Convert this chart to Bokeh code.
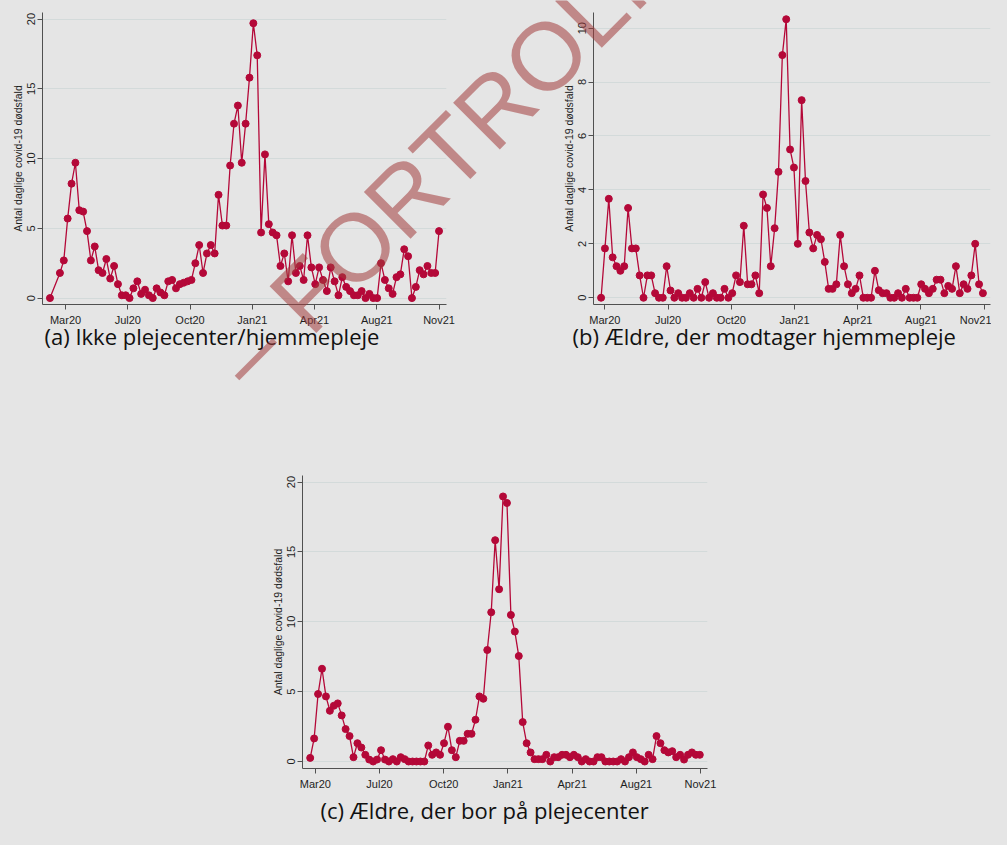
import numpy as np
import pandas as pd
from bokeh.plotting import figure
from bokeh.core.properties import value
from bokeh.models import (Range1d, FixedTicker, DatetimeTickFormatter,
                          Spacer, ColumnDataSource, GlobalInlineStyleSheet)
from bokeh.layouts import row, column
from bokeh.embed import file_html
from bokeh.resources import INLINE

# ---------------- data ----------------
tick_dates = ["2020-03-26", "2020-07-04", "2020-10-12", "2021-01-20",
              "2021-04-30", "2021-08-08", "2021-11-16"]
tick_labels = ["Mar20", "Jul20", "Oct20", "Jan21", "Apr21", "Aug21", "Nov21"]
y_label = "Antal daglige covid-19 dødsfald"
captions = ["(a) Ikke plejecenter/hjemmepleje",
            "(b) Ældre, der modtager hjemmepleje",
            "(c) Ældre, der bor på plejecenter"]
watermark_text = "– FORTROLIGT"

# (a) Ikke plejecenter/hjemmepleje
a_first_date = "2020-03-01"
a_start, a_end = "2020-03-17", "2021-11-16"
a_vals = [0.0, 1.8, 2.7, 5.7, 8.2, 9.7, 6.3, 6.2, 4.8, 2.7,
          3.7, 2.0, 1.8, 2.8, 1.4, 2.3, 1.0, 0.2, 0.2, 0.0,
          0.7, 1.2, 0.3, 0.6, 0.2, 0.0, 0.7, 0.4, 0.2, 1.2,
          1.3, 0.7, 1.0, 1.1, 1.2, 1.3, 2.5, 3.8, 1.8, 3.2,
          3.8, 3.2, 7.4, 5.2, 5.2, 9.5, 12.5, 13.8, 9.7, 12.5,
          15.8, 19.7, 17.4, 4.7, 10.3, 5.3, 4.7, 4.5, 2.3, 3.2,
          1.2, 4.5, 1.8, 2.3, 1.3, 4.5, 2.2, 1.0, 2.2, 1.3,
          0.5, 2.2, 1.2, 0.2, 1.5, 0.8, 0.5, 0.2, 0.2, 0.5,
          0.0, 0.3, 0.0, 0.0, 2.5, 1.3, 0.7, 0.3, 1.5, 1.7,
          3.5, 3.0, 0.0, 0.8, 2.0, 1.7, 2.3, 1.8, 1.8, 4.8]
a_yticks = [0, 5, 10, 15, 20]
a_yrange = (-0.46, 20.47)

# (b) Ældre, der modtager hjemmepleje
b_start, b_end = "2020-03-20", "2021-11-14"
b_vals = [0.0, 1.83, 3.67, 1.5, 1.17, 1.0, 1.17, 3.33, 1.83, 1.83,
          0.83, 0.0, 0.83, 0.83, 0.17, 0.0, 0.0, 1.17, 0.27, 0.0,
          0.17, 0.0, 0.0, 0.17, 0.0, 0.33, 0.0, 0.58, 0.0, 0.17,
          0.0, 0.0, 0.33, 0.0, 0.17, 0.83, 0.58, 2.67, 0.5, 0.5,
          0.83, 0.17, 3.83, 3.33, 1.17, 2.58, 4.67, 9.0, 10.33, 5.5,
          4.83, 2.0, 7.33, 4.33, 2.42, 1.83, 2.33, 2.17, 1.33, 0.33,
          0.33, 0.5, 2.33, 1.17, 0.5, 0.17, 0.33, 0.83, 0.0, 0.0,
          0.0, 1.0, 0.28, 0.17, 0.17, 0.0, 0.0, 0.17, 0.0, 0.33,
          0.0, 0.0, 0.0, 0.5, 0.33, 0.17, 0.33, 0.67, 0.67, 0.17,
          0.44, 0.33, 1.17, 0.17, 0.5, 0.33, 0.83, 2.0, 0.5, 0.17]
b_yticks = [0, 2, 4, 6, 8, 10]
b_yrange = (-0.25, 10.58)

# (c) Ældre, der bor på plejecenter
c_start, c_end = "2020-03-18", "2021-11-15"
c_vals = [0.26, 1.65, 4.83, 6.64, 4.66, 3.63, 3.99, 4.16, 3.3, 2.32,
          1.82, 0.31, 1.31, 1.0, 0.48, 0.14, 0.0, 0.14, 0.81, 0.14,
          0.0, 0.17, 0.0, 0.31, 0.17, 0.0, 0.0, 0.0, 0.0, 0.0,
          1.15, 0.48, 0.65, 0.48, 1.31, 2.49, 0.81, 0.31, 1.48, 1.48,
          1.98, 1.98, 2.99, 4.66, 4.49, 7.98, 10.68, 15.84, 12.33, 18.97,
          18.5, 10.49, 9.3, 7.55, 2.82, 1.31, 0.65, 0.17, 0.17, 0.17,
          0.48, 0.0, 0.31, 0.31, 0.48, 0.48, 0.31, 0.48, 0.31, 0.0,
          0.17, 0.0, 0.0, 0.31, 0.31, 0.0, 0.0, 0.0, 0.0, 0.17,
          0.0, 0.31, 0.65, 0.31, 0.17, 0.0, 0.48, 0.17, 1.82, 1.31,
          0.81, 0.65, 0.74, 0.31, 0.48, 0.14, 0.48, 0.65, 0.48, 0.48]
c_yticks = [0, 5, 10, 15, 20]
c_yrange = (-0.5, 20.47)

# ---------------- style ----------------
BG = "#e5e5e5"
RED = "#b40838"
AXIS = "#505050"
GRID = "#d3dada"
TXT = "#1e1e1e"
AX_FONT = "Liberation Sans"
CAP_FONT = "Open Sans"
PAGE_W, PAGE_H = 991, 828


def ms(d):
    return pd.Timestamp(d).value / 1e6


def make_panel(dates, vals, yticks, yrange, caption, cap_offset, cap_standoff,
               fl, fr, ft, fb, fw, fh):
    x0 = ms(dates.min() - pd.Timedelta(days=12))
    x1 = ms(dates.max() + pd.Timedelta(days=12))
    p = figure(x_axis_type="datetime", x_range=Range1d(x0, x1),
               y_range=Range1d(*yrange), frame_width=fw, frame_height=fh,
               min_border_left=fl, min_border_right=fr, min_border_top=ft,
               min_border_bottom=fb, output_backend="svg",
               toolbar_location=None, title=caption, title_location="below")
    p.background_fill_color = BG
    p.border_fill_color = BG
    p.outline_line_color = None

    src = ColumnDataSource(dict(x=dates, y=vals))
    p.line("x", "y", source=src, line_color=RED, line_width=1.3)
    p.scatter("x", "y", source=src, marker="circle", size=7,
              fill_color=RED, line_color=RED)

    ticks = [ms(d) for d in tick_dates]
    p.xaxis.ticker = FixedTicker(ticks=ticks)
    fmt = "%b%y"
    p.xaxis.formatter = DatetimeTickFormatter(
        milliseconds=fmt, seconds=fmt, minsec=fmt, minutes=fmt, hourmin=fmt,
        hours=fmt, days=fmt, months=fmt, years=fmt)
    p.xaxis.major_label_overrides = {t: l for t, l in zip(ticks, tick_labels)}
    p.xaxis.major_label_standoff = 4

    p.yaxis.ticker = FixedTicker(ticks=yticks)
    p.yaxis.major_label_orientation = "vertical"
    p.yaxis.axis_label = y_label
    p.yaxis.axis_label_text_font = AX_FONT
    p.yaxis.axis_label_text_font_size = "10.5px"
    p.yaxis.axis_label_text_font_style = "normal"
    p.yaxis.axis_label_text_color = TXT
    p.yaxis.axis_label_standoff = 1
    p.yaxis.major_label_standoff = 2

    for ax in (p.xaxis, p.yaxis):
        ax.axis_line_color = AXIS
        ax.major_tick_line_color = AXIS
        ax.minor_tick_line_color = None
        ax.major_tick_out = 5
        ax.major_tick_in = 0
        ax.major_label_text_font = AX_FONT
        ax.major_label_text_font_size = "11px"
        ax.major_label_text_color = TXT

    p.xgrid.visible = False
    p.ygrid.ticker = FixedTicker(ticks=yticks)
    p.ygrid.grid_line_color = GRID
    p.ygrid.grid_line_width = 1

    p.title.align = "left"
    p.title.offset = cap_offset
    p.title.text_font = CAP_FONT
    p.title.text_font_size = "22px"
    p.title.text_font_style = "normal"
    p.title.text_color = "#111111"
    p.title.standoff = cap_standoff
    return p


a_dates = pd.DatetimeIndex([pd.Timestamp(a_first_date)]).append(
    pd.date_range(a_start, a_end, periods=len(a_vals) - 1))
b_dates = pd.date_range(b_start, b_end, periods=len(b_vals))
c_dates = pd.date_range(c_start, c_end, periods=len(c_vals))

# layout geometry (content pixels)
ROW1_H = 467
FA_L, FA_T, FA_W, FA_H = 42, 12, 404, 292
FA_B = FA_T + FA_H
FB_L, FB_W = 34, 397
FIG_A_W = 559
FC_T, FC_W, FC_H = 8, 405, 293

pa = make_panel(a_dates, a_vals, a_yticks, a_yrange, captions[0], 2, -20,
                FA_L, FIG_A_W - FA_L - FA_W, FA_T, ROW1_H - FA_B, FA_W, FA_H)
pb = make_panel(b_dates, b_vals, b_yticks, b_yrange, captions[1], -21, -20,
                FB_L, 1, FA_T, ROW1_H - FA_B, FB_W, FA_H)
pc = make_panel(c_dates, c_vals, c_yticks, c_yrange, captions[2], 18, 0,
                34, 10, FC_T, PAGE_H - ROW1_H - FC_T - FC_H, FC_W, FC_H)

# watermark: one rotated text on a transparent sheet laid over the panels
WM_X, WM_Y = 230, 371   # content position of the text start (baseline)
wm = figure(width=PAGE_W, height=PAGE_H, x_range=Range1d(0, PAGE_W),
            y_range=Range1d(0, PAGE_H), x_axis_type=None, y_axis_type=None,
            toolbar_location=None, output_backend="svg", min_border=0,
            background_fill_color=None, border_fill_color=None,
            outline_line_color=None,
            styles={"position": "absolute", "left": "0px", "top": "0px",
                    "z-index": "5", "pointer-events": "none"})
wm.text(x=[WM_X], y=[PAGE_H - WM_Y], text=[watermark_text], angle=np.pi / 4,
        text_font=value("Liberation Sans"), text_font_size=value("96px"),
        text_color="#a23c3c", text_alpha=0.55, text_align="left",
        text_baseline="alphabetic")

spacer = Spacer(width=268, height=10, styles={"background-color": BG})
layout = column(row(pa, pb), row(spacer, pc), wm,
                styles={"background-color": BG, "position": "relative"},
                stylesheets=[GlobalInlineStyleSheet(
                    css="html, body { background-color: #e5e5e5; }")])

open("out.html", "w").write(file_html(layout, INLINE))
